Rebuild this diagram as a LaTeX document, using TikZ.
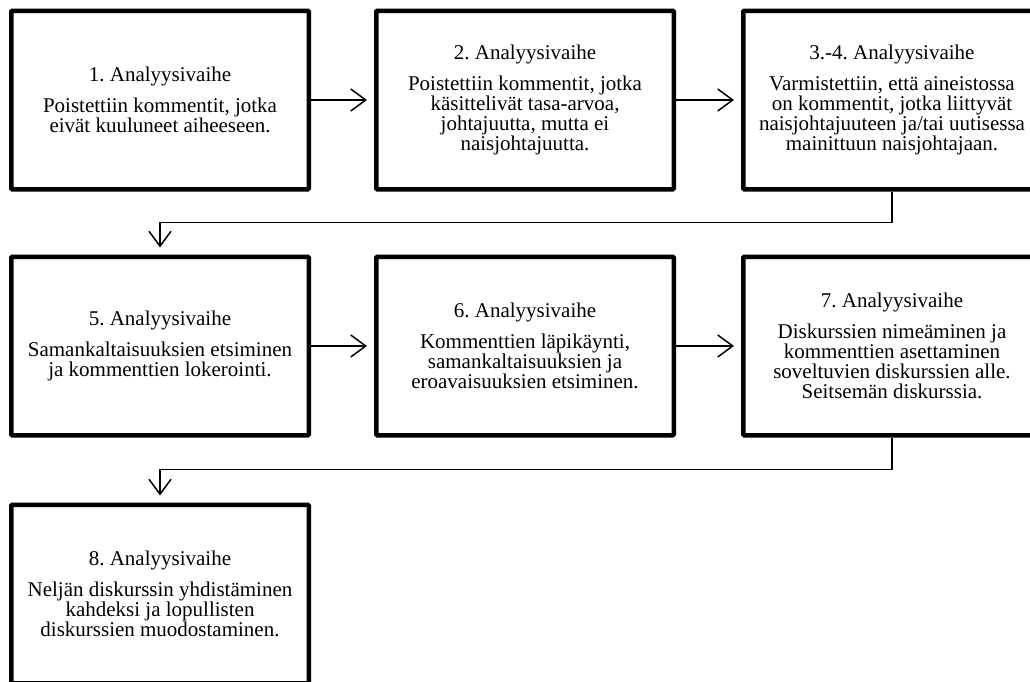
\documentclass[tikz,border=0pt]{standalone}
\usepackage{fontspec}
\setmainfont{Liberation Serif}
\usetikzlibrary{arrows.meta}
\frenchspacing
\tikzset{
  vaihe/.style = {draw, line width=4.5pt, rounded corners=1pt, minimum width=297.5pt, minimum height=178.5pt,
    inner sep=0pt, align=center, font=\fontsize{21}{20}\selectfont},
  nuoli/.style = {line width=1.5pt, -{Straight Barb[length=15pt,width=22pt]}, shorten >=7pt}
}

\begin{document}
\begin{tikzpicture}[x=1pt, y=-1pt]
% kuvan rajat
\useasboundingbox (0,0) rectangle (1030,681);
\clip (0,0) rectangle (1030,681);

% ensimmäinen rivi
\node[vaihe] (v1) at (160,100) {1. Analyysivaihe\\[11pt]Poistettiin kommentit, jotka\\eivät kuuluneet aiheeseen.};
\node[vaihe] (v2) at (525,100) {2. Analyysivaihe\\[11pt]Poistettiin kommentit, jotka\\käsittelivät tasa-arvoa,\\johtajuutta, mutta ei\\naisjohtajuutta.};
\node[vaihe] (v3) at (892,100) {3.-4. Analyysivaihe\\[11pt]Varmistettiin, että aineistossa\\on kommentit, jotka liittyvät\\naisjohtajuuteen ja/tai uutisessa\\mainittuun naisjohtajaan.};

% toinen rivi
\node[vaihe] (v5) at (160,346) {5. Analyysivaihe\\[11pt]Samankaltaisuuksien etsiminen\\ja kommenttien lokerointi.};
\node[vaihe] (v6) at (525,346) {6. Analyysivaihe\\[11pt]Kommenttien läpikäynti,\\samankaltaisuuksien ja\\eroavaisuuksien etsiminen.};
\node[vaihe] (v7) at (892,346) {7. Analyysivaihe\\[11pt]Diskurssien nimeäminen ja\\kommenttien asettaminen\\soveltuvien diskurssien alle.\\Seitsemän diskurssia.};

% kolmas rivi
\node[vaihe] (v8) at (160,594) {8. Analyysivaihe\\[11pt]Neljän diskurssin yhdistäminen\\kahdeksi ja lopullisten\\diskurssien muodostaminen.};

% nuolet
\draw[nuoli] (v1) -- (v2);
\draw[nuoli] (v2) -- (v3);
\draw[nuoli] (v3.south) -- ++(0,31) -| (v5.north);
\draw[nuoli] (v5) -- (v6);
\draw[nuoli] (v6) -- (v7);
\draw[nuoli] (v7.south) -- ++(0,32) -| (v8.north);
\end{tikzpicture}
\end{document}
